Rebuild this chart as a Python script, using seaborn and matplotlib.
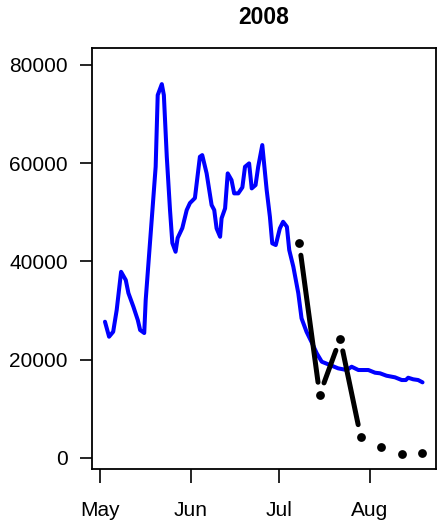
import numpy as np
import pandas as pd
import matplotlib
matplotlib.use("Agg")
import matplotlib.pyplot as plt
import matplotlib.dates as mdates
import seaborn as sns

# days after 1 May 2008 and the blue series values
blue_days = [1.7, 3.1, 4.5, 5.7, 7.2, 8.8, 9.7, 11.4, 12.9, 13.7, 15.1, 15.6, 16.8,
             17.9, 19.0, 19.7, 21.1, 21.8, 22.8, 23.9, 24.7, 25.8, 26.5, 28.1, 29.6,
             30.7, 32.4, 34.1, 34.9, 36.4, 38.1, 39.0, 39.8, 41.0, 41.5, 42.7, 43.6,
             44.9, 45.8, 47.2, 48.6, 49.5, 50.9, 51.8, 53.1, 54.0, 55.4, 56.9, 58.0,
             58.8, 60.0, 61.4, 62.5, 63.8, 64.6, 66.0, 67.7, 68.8, 70.5, 72.3, 74.0,
             75.7, 78.5, 81.3, 84.2, 85.9, 88.2, 91.6, 93.9, 95.6, 97.8, 100.7, 103.0,
             104.4, 105.2, 106.9, 108.6, 110.1]
blue_vals = [27740, 24690, 25700, 30120, 37900, 36220, 33570, 30790, 28080, 26050,
             25440, 32150, 41720, 50470, 59280, 73870, 76110, 73870, 61310, 50470,
             43750, 41980, 44770, 46800, 50470, 51890, 52910, 61320, 61660, 57940,
             51490, 50470, 46740, 45030, 48780, 50810, 57940, 56570, 53870, 53870,
             55090, 59280, 59970, 54880, 55560, 59280, 63700, 54540, 49100, 43690,
             43350, 46740, 48090, 47070, 42330, 38930, 33520, 28430, 25700, 23500,
             21300, 19600, 18930, 18250, 17910, 18580, 17910, 17910, 17360, 17240,
             16750, 16420, 15870, 15870, 16340, 16020, 15870, 15400]

# weekly black points; the first four are joined by a line
black_dates = ["2008-07-08", "2008-07-15", "2008-07-22", "2008-07-29",
               "2008-08-05", "2008-08-12", "2008-08-19"]
black_vals = [43800, 12900, 24300, 4300, 2300, 750, 1080]
n_joined = 4

month_ticks = ["2008-05-01", "2008-06-01", "2008-07-01", "2008-08-01"]
month_labels = ["May", "Jun", "Jul", "Aug"]
y_ticks = [0, 20000, 40000, 60000, 80000]

start = pd.Timestamp("2008-05-01")
blue = pd.DataFrame({"date": start + pd.to_timedelta(blue_days, unit="D"),
                     "value": blue_vals})
black = pd.DataFrame({"date": pd.to_datetime(black_dates), "value": black_vals})

sns.set_style("white")
plt.rcParams["font.family"] = ["Liberation Sans", "DejaVu Sans"]
plt.rcParams["text.color"] = "black"
plt.rcParams["xtick.color"] = "black"
plt.rcParams["ytick.color"] = "black"
plt.rcParams["axes.labelcolor"] = "black"

W, H = 437, 530
fig = plt.figure(figsize=(W / 100, H / 100), dpi=100)
ax = fig.add_axes([92 / W, 1 - 469 / H, (436 - 92) / W, (469 - 48) / H])

sns.lineplot(data=blue, x="date", y="value", ax=ax, color="#0000ff", lw=2.9,
             sort=False, solid_joinstyle="round")

ax.set_xlim(start - pd.Timedelta(days=2.73), start + pd.Timedelta(days=114.7))
ax.set_ylim(-2240, 83460)

# black line with gaps around points (like R type="b")
trans = ax.transData
xs = mdates.date2num(black["date"])
pts = trans.transform(np.column_stack([xs, black["value"]]))
gap = 12.5
for i in range(n_joined - 1):
    p, q = pts[i], pts[i + 1]
    u = (q - p) / np.hypot(*(q - p))
    seg = trans.inverted().transform([p + u * gap, q - u * gap])
    ax.plot(seg[:, 0], seg[:, 1], color="black", lw=3.6, solid_capstyle="round")

sns.scatterplot(data=black, x="date", y="value", ax=ax, color="black", s=40,
                edgecolor="black", linewidth=0, zorder=5)

ax.set_xticks(pd.to_datetime(month_ticks))
ax.set_xticklabels(month_labels)
ax.set_yticks(y_ticks)
ax.set_yticklabels([str(v) for v in y_ticks])
ax.tick_params(axis="x", length=10, width=1.2, pad=13, labelsize=15, direction="out",
               bottom=True, colors="black")
ax.tick_params(axis="y", length=8.5, width=1.2, pad=9, labelsize=15, direction="out",
               left=True, colors="black")
ax.set_xlabel("")
ax.set_ylabel("")
for s in ax.spines.values():
    s.set_linewidth(1.3)
    s.set_color("black")

ax.set_title("2008", fontsize=16.5, fontweight="bold", pad=17, color="black")

fig.savefig("out.png", dpi=100)
